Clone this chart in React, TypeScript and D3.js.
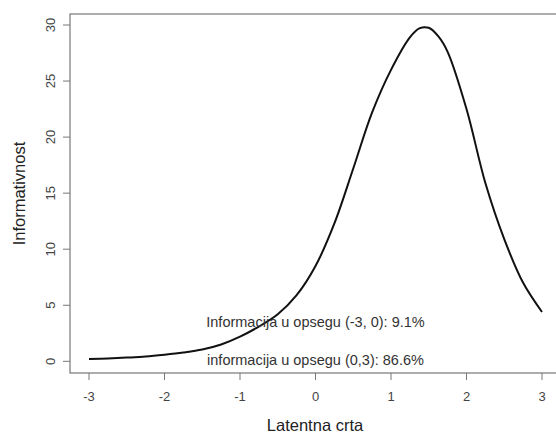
import React from 'react';
import * as d3 from 'd3';

// latent trait values and test information
const theta = [-3, -2.75, -2.5, -2.25, -2, -1.75, -1.5, -1.25, -1, -0.75, -0.5, -0.25, 0,
  0.25, 0.5, 0.75, 1, 1.25, 1.375, 1.5, 1.625, 1.75, 2, 2.25, 2.5, 2.75, 3];
const info = [0.2, 0.26, 0.33, 0.42, 0.58, 0.78, 1.05, 1.5, 2.2, 3.1, 4.2, 5.9, 8.5,
  12.3, 17.2, 22.2, 26.0, 28.9, 29.7, 29.75, 29.0, 27.6, 22.5, 15.9, 10.9, 7.0, 4.4];

const xTicks = [-3, -2, -1, 0, 1, 2, 3];
const yTicks = [0, 5, 10, 15, 20, 25, 30];

const notes = [
  { y: 3.5, text: 'Informacija u opsegu (-3, 0): 9.1%' },
  { y: 0.1, text: 'informacija u opsegu (0,3): 86.6%' },
];

const W = 556;
const H = 433;
const left = 70, top = 14, right = 560, bottom = 373;

const App: React.FC = () => {
  const x = d3.scaleLinear().domain([-3, 3]).range([89, 542]);
  const y = d3.scaleLinear().domain([0, 30]).range([361.3, 25]);

  const pts = theta.map((t, i) => [t, info[i]] as [number, number]);
  const line = d3.line<[number, number]>()
    .x(d => x(d[0]))
    .y(d => y(d[1]))
    .curve(d3.curveCatmullRom.alpha(0.5));

  const font = '"Liberation Sans", Arial, sans-serif';
  const axisCol = '#777';
  const textCol = '#444';

  return (
    <svg width={W} height={H} style={{ position: 'absolute', left: 0, top: 0, background: '#fff' }}
      fontFamily={font}>
      <rect x={left} y={top} width={right - left} height={bottom - top} fill="none" stroke={axisCol} strokeWidth={1.2} />

      {xTicks.map(t => (
        <g key={'x' + t}>
          <line x1={x(t)} x2={x(t)} y1={bottom} y2={bottom + 7} stroke={axisCol} />
          <text x={x(t)} y={401} fontSize={13} fill={textCol} textAnchor="middle">{t}</text>
        </g>
      ))}

      {yTicks.map(t => (
        <g key={'y' + t}>
          <line x1={left} x2={left - 7} y1={y(t)} y2={y(t)} stroke={axisCol} />
          <text transform={`translate(54.5,${y(t)}) rotate(-90)`} fontSize={13} fill={textCol}
            textAnchor="middle">{t}</text>
        </g>
      ))}

      <text x={(left + right) / 2} y={430.5} fontSize={16.5} fill="#222" textAnchor="middle">Latentna crta</text>
      <text transform={`translate(25,${(top + bottom) / 2}) rotate(-90)`} fontSize={16.5} fill="#222"
        textAnchor="middle">Informativnost</text>

      <path d={line(pts) || ''} fill="none" stroke="#111" strokeWidth={2} />

      {notes.map(n => (
        <text key={n.text} x={x(0)} y={y(n.y)} fontSize={14.5} fill="#333" textAnchor="middle" dominantBaseline="central">{n.text}</text>
      ))}
    </svg>
  );
};

export default App;
